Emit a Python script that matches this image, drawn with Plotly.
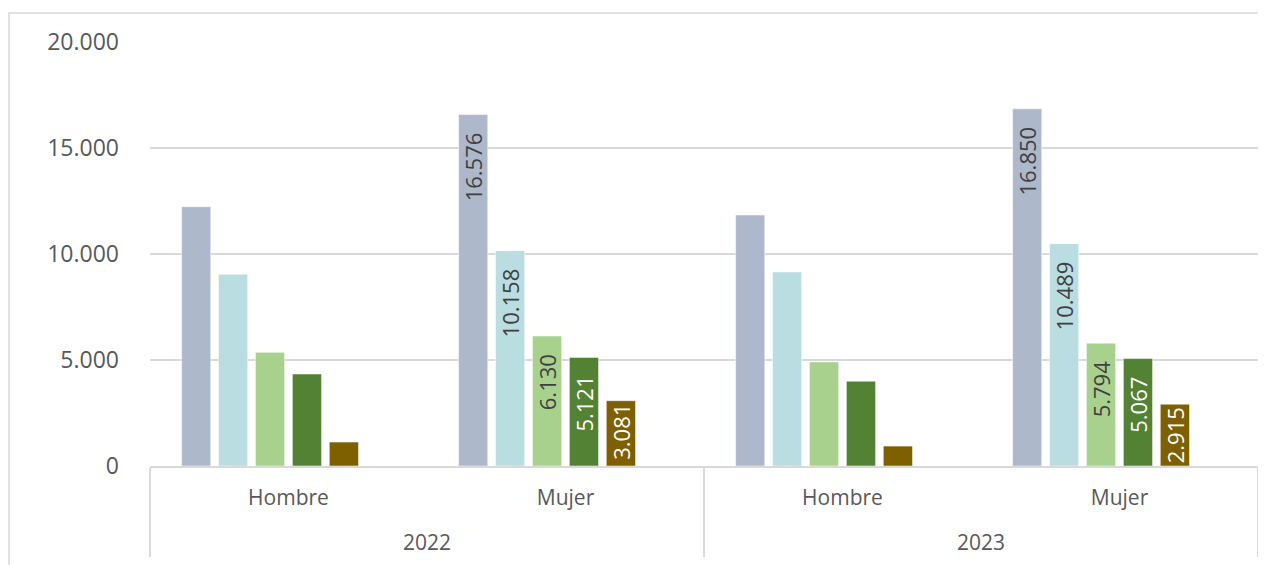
import plotly.graph_objects as go

years = ["2022", "2022", "2023", "2023"]
sexes = ["Hombre", "Mujer", "Hombre", "Mujer"]
series_names = ["Serie 1", "Serie 2", "Serie 3", "Serie 4", "Serie 5"]
serie1 = [12230, 16576, 11840, 16850]
serie2 = [9040, 10158, 9150, 10489]
serie3 = [5360, 6130, 4910, 5794]
serie4 = [4340, 5121, 4000, 5067]
serie5 = [1130, 3081, 940, 2915]
series_values = [serie1, serie2, serie3, serie4, serie5]
colors = ["#ADB9CA", "#B9DDE0", "#A9D18E", "#548235", "#7F6000"]
label_colors = ["#404040", "#404040", "#404040", "#FFFFFF", "#FFFFFF"]
title_text = "de diciembre"

# the page body adds an 8px margin; lay out in page pixels
OFF = 8
W, H = 1266 - OFF, 565 - OFF
L, R, T, B = 150 - OFF, 8, 42 - OFF, 99
pw, ph = W - L - R, H - T - B

n_slots = 6
group_frac = 0.8
slot = group_frac / n_slots
bar_w = slot * 0.79

NB = "\u00a0"
THIN = "\u2009"

def label(v, s):
    if s != "Mujer":
        return ""
    t = f"{v:,}".replace(",", ".")
    return t + (NB * 2 + THIN if v > 4000 else "")

x_inner = [s + "<br>" + NB for s in sexes]

fig = go.Figure()
for k, (name, vals) in enumerate(zip(series_names, series_values)):
    texts = [label(v, s) for v, s in zip(vals, sexes)]
    fig.add_trace(go.Bar(
        x=[years, x_inner], y=vals, name=name,
        marker=dict(color=colors[k], line=dict(color="#FFFFFF", width=0.5)),
        width=bar_w,
        offset=-group_frac / 2 + k * slot + (slot - bar_w) / 2,
        text=texts, textposition="inside", textangle=-90,
        insidetextanchor="end", constraintext="none",
        textfont=dict(family="Open Sans", size=22, color=label_colors[k]),
        cliponaxis=False,
        hoverinfo="skip",
    ))

def px_x(page_x):
    return (page_x - OFF - L) / pw

def px_y(page_y):
    return (H - B - (page_y - OFF)) / ph

fig.update_layout(
    width=W, height=H,
    margin=dict(l=L, r=R, t=T, b=B, autoexpand=False),
    barmode="overlay",
    showlegend=False,
    separators=",.",
    paper_bgcolor="white", plot_bgcolor="white",
    font=dict(family="Open Sans", color="#595959"),
    xaxis=dict(
        type="multicategory", automargin=False,
        showline=True, linecolor="#D9D9D9", linewidth=1.5,
        showdividers=True, dividercolor="#D9D9D9", dividerwidth=1.5,
        tickfont=dict(size=21, color="#595959"),
        ticks="", showgrid=False, ticklabelstandoff=12,
    ),
    yaxis=dict(
        range=[0, 20000], dtick=5000, tickformat=",d", automargin=False,
        showgrid=True, gridcolor="#D9D9D9", gridwidth=1.5,
        zeroline=False, showline=False, ticks="",
        tickfont=dict(size=23, color="#595959"),
        ticklabelstandoff=30,
    ),
    shapes=[dict(
        type="rect", xref="paper", yref="paper",
        x0=px_x(9), x1=px_x(1265), y0=px_y(600), y1=px_y(13),
        line=dict(color="#D9D9D9", width=1.5), fillcolor="rgba(0,0,0,0)",
        layer="below",
    )],
    annotations=[dict(
        text=f"<b>{title_text}</b>", xref="paper", yref="paper",
        x=px_x(-2), y=px_y(12), xanchor="left", yanchor="bottom",
        showarrow=False, font=dict(family="Open Sans", size=24, color="#A67C00"),
    )],
)

fig.write_html("out.html")
